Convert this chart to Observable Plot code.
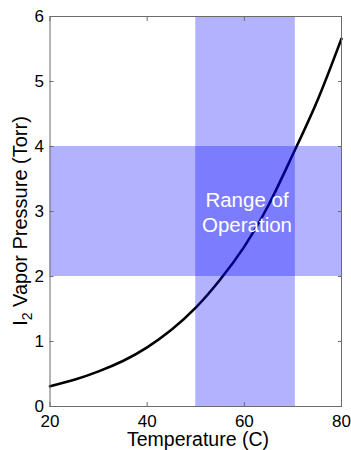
<!DOCTYPE html>
<html>
<head>
<meta charset="utf-8">
<script src="https://cdn.jsdelivr.net/npm/d3@7"></script>
<script src="https://cdn.jsdelivr.net/npm/@observablehq/plot@0.6"></script>
<style>
  html, body { margin: 0; padding: 0; background: #fff; }
  #chart svg { display: block; }
</style>
</head>
<body>
<div id="chart"></div>
<script>
// Temperature (C) and I2 vapor pressure (Torr)
const temperature = [20, 25, 30, 35, 40, 45, 50, 55, 60, 65, 70, 75, 80];
const pressure    = [0.31, 0.41, 0.54, 0.70, 0.91, 1.18, 1.52, 1.95, 2.46, 3.10, 3.88, 4.70, 5.66];

// Range of operation
const tempRange = [50, 70.5];
const pressureRange = [2, 4];
const rangeLabel = "Range of\nOperation";

const xTicks = [20, 40, 60, 80];
const yTicks = [0, 1, 2, 3, 4, 5, 6];
const xLabel = "Temperature (C)";
const yLabelMain = "I";
const yLabelSub = "2";
const yLabelRest = " Vapor Pressure (Torr)";

const curve = temperature.map((t, i) => ({t, p: pressure[i]}));
const frameColor = "#6b6b6b";

const chart = Plot.plot({
  width: 351,
  height: 450,
  marginLeft: 49.5,
  marginRight: 10,
  marginTop: 16,
  marginBottom: 44,
  style: {fontFamily: "'Liberation Sans', Arial, sans-serif", background: "#fff"},
  x: {domain: [20, 80]},
  y: {domain: [0, 6]},
  marks: [
    Plot.line(curve, {x: "t", y: "p", stroke: "#000", strokeWidth: 2.6, curve: "natural"}),
    Plot.rect([{x1: tempRange[0], x2: tempRange[1]}], {x1: "x1", x2: "x2", y1: 0, y2: 6, fill: "blue", fillOpacity: 0.3}),
    Plot.rect([{y1: pressureRange[0], y2: pressureRange[1]}], {x1: 20, x2: 80, y1: "y1", y2: "y2", fill: "blue", fillOpacity: 0.3}),
    Plot.text([rangeLabel], {x: (tempRange[0] + tempRange[1]) / 2 + 0.3, y: (pressureRange[0] + pressureRange[1]) / 2, fill: "#fff", fontSize: 20.5, lineHeight: 1.22}),
    Plot.axisX({ticks: xTicks, tickFormat: "d", tickSize: 0, tickPadding: 8, fontSize: 17, label: null, color: "#000"}),
    Plot.axisY({ticks: yTicks, tickFormat: "d", tickSize: 0, tickPadding: 6, fontSize: 17, label: null, color: "#000"}),
    Plot.axisX({ticks: xTicks, anchor: "bottom", tickSize: -4, text: null, label: null, stroke: frameColor}),
    Plot.axisX({ticks: xTicks, anchor: "top", tickSize: -4, text: null, label: null, stroke: frameColor}),
    Plot.axisY({ticks: yTicks, anchor: "left", tickSize: -4, text: null, label: null, stroke: frameColor}),
    Plot.axisY({ticks: yTicks, anchor: "right", tickSize: -4, text: null, label: null, stroke: frameColor}),
    Plot.frame({stroke: frameColor, strokeWidth: 1})
  ]
});

document.getElementById("chart").appendChild(chart);

const svg = d3.select(chart);
svg.append("text")
  .attr("x", 198)
  .attr("y", 445.5)
  .attr("text-anchor", "middle")
  .attr("font-size", 19.5)
  .attr("fill", "#000")
  .text(xLabel);

const yl = svg.append("text")
  .attr("transform", "translate(27,221) rotate(-90)")
  .attr("text-anchor", "middle")
  .attr("font-size", 20)
  .attr("fill", "#000");
yl.append("tspan").text(yLabelMain);
yl.append("tspan").attr("font-size", 14).attr("dy", 5).text(yLabelSub);
yl.append("tspan").attr("dy", -5).text(yLabelRest);
</script>
</body>
</html>
